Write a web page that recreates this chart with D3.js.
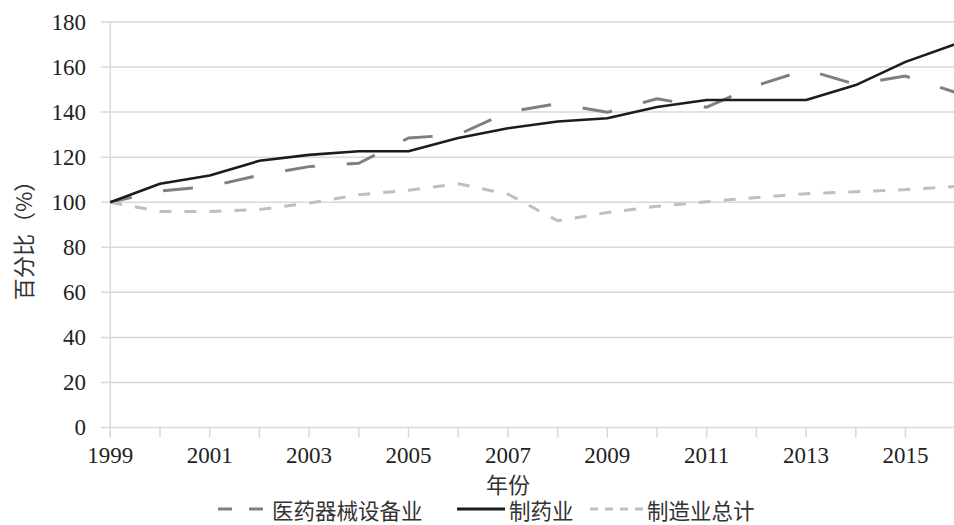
<!DOCTYPE html>
<html>
<head>
<meta charset="utf-8">
<script src="https://cdn.jsdelivr.net/npm/d3@7"></script>
<style>
  html, body { margin: 0; padding: 0; background: #fff; }
  svg { display: block; }
</style>
</head>
<body>
<svg id="chart" width="954" height="525"></svg>
<script>
// Index values (1999 = 100)
const years = [1999, 2000, 2001, 2002, 2003, 2004, 2005, 2006, 2007, 2008,
               2009, 2010, 2011, 2012, 2013, 2014, 2015, 2016];
const medicalDevices = [100, 105, 107, 112, 115.8, 117.3, 128.5, 130, 140, 143.8,
                        139.9, 145.9, 142.2, 151.8, 158.8, 152.3, 156, 148.8];
const pharma = [100, 108.2, 111.9, 118.4, 121, 122.6, 122.6, 128.5, 132.8, 135.8,
                137.3, 142.3, 145.4, 145.4, 145.4, 152, 162.3, 170.2];
const manufacturing = [100, 95.9, 95.9, 96.8, 99.6, 103.3, 105.3, 108.2, 103.6, 91.8,
                       95.4, 98.2, 100.2, 102.1, 103.8, 104.7, 105.6, 107];
const yTicks = [0, 20, 40, 60, 80, 100, 120, 140, 160, 180];
const xLabelYears = [1999, 2001, 2003, 2005, 2007, 2009, 2011, 2013, 2015];

const seriesNames = ["医药器械设备业", "制药业", "制造业总计"];
const yTitle = "百分比（%）";
const xTitle = "年份";

const NUM_FONT = "'Liberation Serif', 'Times New Roman', Times, serif";
const CJK_FONT = "'Noto Sans CJK SC', 'Noto Sans', sans-serif";

const svg = d3.select("#chart");
const W = 954;

const x = d3.scaleLinear().domain([1999, 2016]).range([110.3, 955.2]);
const y = d3.scaleLinear().domain([0, 180]).range([427.5, 22]);

// horizontal gridlines (the 0 line doubles as the x axis)
svg.append("g").selectAll("line").data(yTicks).join("line")
  .attr("x1", 101).attr("x2", W)
  .attr("y1", d => y(d)).attr("y2", d => y(d))
  .attr("stroke", "#d9d9d9").attr("stroke-width", 1.5);

// vertical axis line
svg.append("line")
  .attr("x1", x(1999)).attr("x2", x(1999))
  .attr("y1", y(180)).attr("y2", y(0) + 10)
  .attr("stroke", "#d9d9d9").attr("stroke-width", 1.5);

// yearly tick marks below the x axis
svg.append("g").selectAll("line").data(years).join("line")
  .attr("x1", d => x(d)).attr("x2", d => x(d))
  .attr("y1", y(0)).attr("y2", y(0) + 10)
  .attr("stroke", "#d9d9d9").attr("stroke-width", 1.5);

// y tick labels
svg.append("g").selectAll("text").data(yTicks).join("text")
  .style("font-family", NUM_FONT).style("font-size", "23px").style("fill", "#222")
  .attr("x", 86).attr("y", d => y(d) + 7.5)
  .attr("text-anchor", "end")
  .text(d => d);

// x tick labels
svg.append("g").selectAll("text").data(xLabelYears).join("text")
  .style("font-family", NUM_FONT).style("font-size", "23px").style("fill", "#222")
  .attr("x", d => x(d)).attr("y", 463)
  .attr("text-anchor", "middle")
  .text(d => d);

// axis titles
svg.append("text")
  .style("font-family", CJK_FONT).style("font-size", "22px").style("fill", "#333")
  .attr("transform", "translate(22,235) rotate(-90)")
  .attr("text-anchor", "middle").attr("dominant-baseline", "central")
  .text(yTitle);
svg.append("text")
  .style("font-family", CJK_FONT).style("font-size", "22px").style("fill", "#333")
  .attr("x", 508).attr("y", 483)
  .attr("text-anchor", "middle").attr("dominant-baseline", "central")
  .text(xTitle);

// series lines
const line = d3.line().x((d, i) => x(years[i])).y(d => y(d));
const styles = [
  { data: medicalDevices, color: "#7f7f7f", width: 3, dash: "30,32", offset: 8 },
  { data: pharma, color: "#1c1c1c", width: 2.6, dash: null, offset: 0 },
  { data: manufacturing, color: "#bfbfbf", width: 3, dash: "12,13", offset: 0 }
];
const plot = svg.append("g");
// medical devices first, then manufacturing, then pharma on top
[0, 2, 1].forEach(k => {
  const s = styles[k];
  plot.append("path")
    .datum(s.data)
    .attr("d", line)
    .attr("fill", "none")
    .attr("stroke", s.color)
    .attr("stroke-width", s.width)
    .attr("stroke-linejoin", "round")
    .attr("stroke-dasharray", s.dash)
    .attr("stroke-dashoffset", s.offset);
});

// legend
const legendY = 509;
const legend = [
  { x0: 218, x1: 263, tx: 272, color: "#7f7f7f", width: 3, dash: "14,17" },
  { x0: 457, x1: 505, tx: 509, color: "#1c1c1c", width: 3, dash: null },
  { x0: 590, x1: 643, tx: 647, color: "#bfbfbf", width: 3, dash: "8,7" }
];
const lg = svg.append("g");
legend.forEach((l, i) => {
  lg.append("line")
    .attr("x1", l.x0).attr("x2", l.x1)
    .attr("y1", legendY).attr("y2", legendY)
    .attr("stroke", l.color).attr("stroke-width", l.width)
    .attr("stroke-dasharray", l.dash);
  lg.append("text")
    .style("font-family", CJK_FONT).style("font-size", "21.5px").style("fill", "#333")
    .attr("x", l.tx).attr("y", legendY)
    .attr("dominant-baseline", "central")
    .text(seriesNames[i]);
});
</script>
</body>
</html>
